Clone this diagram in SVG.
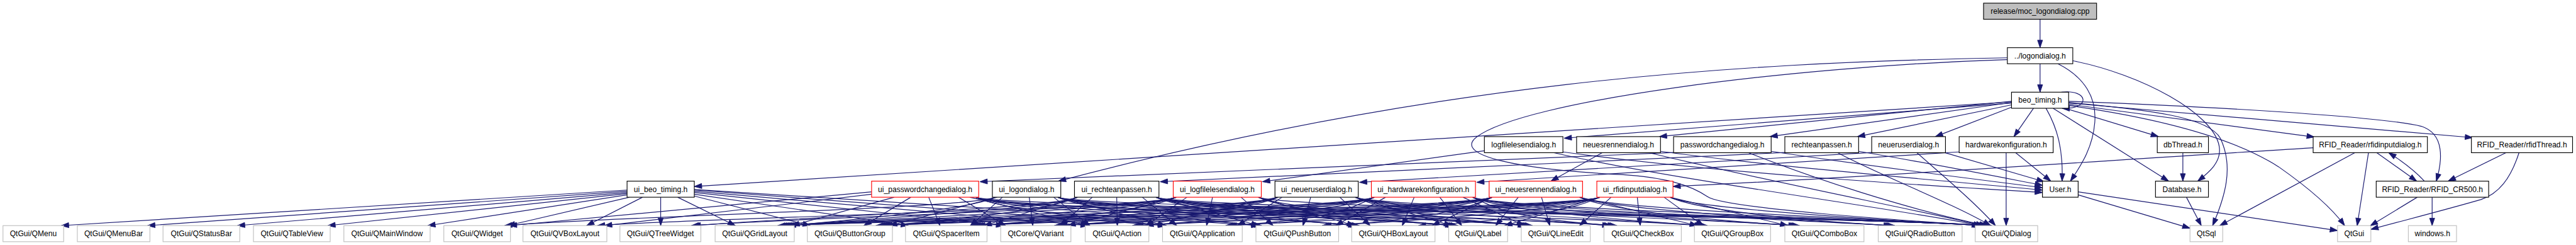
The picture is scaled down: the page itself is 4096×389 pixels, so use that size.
<svg xmlns="http://www.w3.org/2000/svg" width="4096" height="389" viewBox="0 0 4096 389">
<defs>
<style>
.e path{fill:none;stroke:#191970;stroke-width:1.25;marker-end:url(#ah)}
.nd rect{fill:#fff;stroke:#000;stroke-width:1.2}
.rd rect{fill:#fff;stroke:#f00;stroke-width:1.2}
.ex rect{fill:#fff;stroke:#bfbfbf;stroke-width:1.2}
.rt rect{fill:#bfbfbf;stroke:#000;stroke-width:1.2}
text{font-family:"Liberation Sans",Arial,sans-serif;font-size:12.8px;text-anchor:middle;fill:#000}
</style>
<marker id="ah" markerWidth="13" markerHeight="10" refX="12.5" refY="4.75" orient="auto" markerUnits="userSpaceOnUse" overflow="visible"><path d="M0,0.5 L12.5,4.75 L0,9z" fill="#191970" stroke="#191970" stroke-width="1"/></marker>
</defs>
<rect x="0" y="0" width="4096" height="389" fill="#fff"/>
<g transform="scale(0.946)">
<g id="edges" class="e">
<path d="M3429,32.3 L3429,80"/>
<path d="M3429,107 L3429,154.7"/>
<path d="M3459,107 C3505,130 3524,165 3521,205 C3518,245 3500,275 3480,304"/>
<path d="M3374,97 C2900,105 2400,140 1779,304"/>
<path d="M3374,100 C3000,112 2560,170 2482,230 C2440,262 2560,285 2725,293 C2800,298 2840,310 2870,330 C2900,350 3200,370 3332,378.7"/>
<path d="M3484,102 C3600,125 3720,190 3730,245 C3735,272 3712,290 3694,304"/>
<path d="M3465,154.7 C3510,149 3516,184 3466,181.7"/>
<path d="M3418,181.7 L3385,229.3"/>
<path d="M3439,181.7 C3458,215 3468,250 3466,304"/>
<path d="M3451,181.7 L3645,304"/>
<path d="M3471,181.7 L3628,229.3"/>
<path d="M3477,175 L3890,230"/>
<path d="M3477,173 L4156,231"/>
<path d="M3477,170 C3700,178 4000,195 4070,212 C4110,225 4105,270 4095,304"/>
<path d="M3477,172 C3620,185 3712,197 3732,232 C3755,280 3740,330 3719,378.7"/>
<path d="M3477,177 C3640,200 3760,235 3830,280 C3880,315 3920,350 3941,378.7"/>
<path d="M3381,171 L1167,313"/>
<path d="M3381,173 L2629,232"/>
<path d="M3381,170 L2789,229.3"/>
<path d="M3381,172 L2975,229.3"/>
<path d="M3381,176 L3122,229.3"/>
<path d="M3381,180 L3253,229.3"/>
<path d="M2813,256 L1647,305"/>
<path d="M3000,256 L1950,305"/>
<path d="M2495,253 L2122,305"/>
<path d="M3146,256 L2285,306"/>
<path d="M3293,255 L2482,306"/>
<path d="M2693,256.3 L2607,304"/>
<path d="M3888,248 C3500,272 3100,300 2812,313"/>
<path d="M3372,256.3 L3372,378.7"/>
<path d="M3388,256.3 L3447,304"/>
<path d="M3268,256 L3436,305"/>
<path d="M3124,254 C3250,275 3350,295 3433,311"/>
<path d="M2977,254 C3150,280 3330,302 3433,315"/>
<path d="M2791,254 C3000,282 3300,306 3433,319"/>
<path d="M2627,255 C2900,292 3250,312 3433,323"/>
<path d="M2612,256.3 C2800,300 3200,352 3330,378.7"/>
<path d="M2772,256.3 C2950,300 3220,352 3334,378.7"/>
<path d="M2939,256.3 C3050,300 3200,350 3340,378.7"/>
<path d="M3089,256.3 C3150,290 3280,340 3346,378.7"/>
<path d="M3222,256.3 C3260,290 3320,340 3354,378.7"/>
<path d="M3493,327 L3681,383"/>
<path d="M3493,322 L3929,387"/>
<path d="M3675,331 L3700,378.7"/>
<path d="M3669,256.3 L3669,304"/>
<path d="M3958,256.3 L3731,378.7"/>
<path d="M3981,256.3 L3962,378.7"/>
<path d="M3995,256.3 L4062,304"/>
<path d="M4075,304 C4062,290 4040,272 4015,256.3"/>
<path d="M4212,256.3 L4115,304"/>
<path d="M4234,256.3 C4220,300 4200,325 4170,335 C4100,355 4040,370 3985,385"/>
<path d="M4063,331 L3984,379"/>
<path d="M4088,331 L4088,378.7"/>
<path d="M1054,319 L103,378.7"/>
<path d="M1054,321 L248,378.7"/>
<path d="M1054,323 L399,378.7"/>
<path d="M1054,325 L551,378.7"/>
<path d="M1054,327 L719,378.7"/>
<path d="M1058,331 L853,378.7"/>
<path d="M1080,331 L986,378.7"/>
<path d="M1110.5,331 L1110.5,378.7"/>
<path d="M1139,331 L1236,378.7"/>
<path d="M1167,329 L1362,378.7"/>
<path d="M1167,326 L1527,378.7"/>
<path d="M1167,323 L1687,378.7"/>
<path d="M1167,321 L1829,378.7"/>
<path d="M1167,319 L1959,378.7"/>
<path d="M1167,318 L2116,378.7"/>
<path d="M1465,322 L856,378.7"/>
<path d="M1465,326 L1016,378.7"/>
<path d="M1503,331 L1331,378.7"/>
<path d="M1531,331 L1452,378.7"/>
<path d="M1561,331 L1580,378.7"/>
<path d="M1611,331 L1690,378.7"/>
<path d="M1630,331 L1830,378.7"/>
<path d="M1640,331 C1680,350 1804,363 1961,378.7"/>
<path d="M1640,331 C1680,350 1961,363 2118,378.7"/>
<path d="M1640,331 C1680,350 2122,363 2279,378.7"/>
<path d="M1640,331 C1680,350 2285,363 2442,378.7"/>
<path d="M1640,331 C1680,350 2407,363 2564,378.7"/>
<path d="M1640,331 C1680,350 3170,363 3327,378.7"/>
<path d="M1673,331 C1633,350 1008,364 848,378.7"/>
<path d="M1673,331 C1633,350 1485,364 1325,378.7"/>
<path d="M1676,331 L1495,378.7"/>
<path d="M1685,331 L1631,378.7"/>
<path d="M1730,331 L1736,378.7"/>
<path d="M1771,331 L1832,378.7"/>
<path d="M1778,331 L1959,378.7"/>
<path d="M1778,331 C1818,350 1961,364 2121,378.7"/>
<path d="M1778,331 C1818,350 2122,364 2282,378.7"/>
<path d="M1778,331 C1818,350 2285,364 2445,378.7"/>
<path d="M1778,331 C1818,350 2407,364 2567,378.7"/>
<path d="M1778,331 C1818,350 2546,364 2706,378.7"/>
<path d="M1778,331 C1818,350 3170,364 3330,378.7"/>
<path d="M1811,331 C1771,350 1328,365 1165,378.7"/>
<path d="M1811,331 C1771,350 1485,365 1322,378.7"/>
<path d="M1811,331 C1771,350 1650,365 1487,378.7"/>
<path d="M1811,331 L1654,378.7"/>
<path d="M1836,331 L1782,378.7"/>
<path d="M1877,331 L1878,378.7"/>
<path d="M1920,331 L1978,378.7"/>
<path d="M1943,331 L2116,378.7"/>
<path d="M1943,331 C1983,350 2122,365 2285,378.7"/>
<path d="M1943,331 C1983,350 2285,365 2448,378.7"/>
<path d="M1943,331 C1983,350 2407,365 2570,378.7"/>
<path d="M1943,331 C1983,350 2546,365 2709,378.7"/>
<path d="M1943,331 C1983,350 2698,365 2861,378.7"/>
<path d="M1943,331 C1983,350 3170,365 3333,378.7"/>
<path d="M1977,331 C1937,350 1170,366 1004,378.7"/>
<path d="M1977,331 C1937,350 1328,366 1162,378.7"/>
<path d="M1977,331 C1937,350 1485,366 1319,378.7"/>
<path d="M1977,331 C1937,350 1650,366 1484,378.7"/>
<path d="M1977,331 C1937,350 1809,366 1643,378.7"/>
<path d="M1977,331 L1795,378.7"/>
<path d="M1995,331 L1926,378.7"/>
<path d="M2038,331 L2028,378.7"/>
<path d="M2086,331 L2140,378.7"/>
<path d="M2115,331 L2277,378.7"/>
<path d="M2115,331 C2155,350 2285,366 2451,378.7"/>
<path d="M2115,331 C2155,350 2407,366 2573,378.7"/>
<path d="M2115,331 C2155,350 3170,366 3336,378.7"/>
<path d="M2148,331 C2108,350 1485,367 1316,378.7"/>
<path d="M2148,331 C2108,350 1650,367 1481,378.7"/>
<path d="M2148,331 C2108,350 1809,367 1640,378.7"/>
<path d="M2148,331 C2108,350 1950,367 1781,378.7"/>
<path d="M2148,331 L1926,378.7"/>
<path d="M2155,331 L2080,378.7"/>
<path d="M2203,331 L2190,378.7"/>
<path d="M2252,331 L2303,378.7"/>
<path d="M2278,331 L2440,378.7"/>
<path d="M2278,331 C2318,350 2407,367 2576,378.7"/>
<path d="M2278,331 C2318,350 2546,367 2715,378.7"/>
<path d="M2278,331 C2318,350 2698,367 2867,378.7"/>
<path d="M2278,331 C2318,350 2850,367 3019,378.7"/>
<path d="M2278,331 C2318,350 3170,367 3339,378.7"/>
<path d="M2310,331 C2270,350 1485,368 1313,378.7"/>
<path d="M2310,331 C2270,350 1650,368 1478,378.7"/>
<path d="M2310,331 C2270,350 1809,368 1637,378.7"/>
<path d="M2310,331 C2270,350 1950,368 1778,378.7"/>
<path d="M2310,331 C2270,350 2081,368 1909,378.7"/>
<path d="M2310,331 C2270,350 2238,368 2066,378.7"/>
<path d="M2329,331 L2245,378.7"/>
<path d="M2377,331 L2357,378.7"/>
<path d="M2420,331 L2457,378.7"/>
<path d="M2459,331 L2562,378.7"/>
<path d="M2475,331 C2515,350 2546,368 2718,378.7"/>
<path d="M2475,331 C2515,350 2698,368 2870,378.7"/>
<path d="M2475,331 C2515,350 2850,368 3022,378.7"/>
<path d="M2475,331 C2515,350 3007,368 3179,378.7"/>
<path d="M2475,331 C2515,350 3170,368 3342,378.7"/>
<path d="M2508,331 C2468,350 1485,369 1310,378.7"/>
<path d="M2508,331 C2468,350 1650,369 1475,378.7"/>
<path d="M2508,331 C2468,350 1809,369 1634,378.7"/>
<path d="M2508,331 C2468,350 1950,369 1775,378.7"/>
<path d="M2508,331 C2468,350 2081,369 1906,378.7"/>
<path d="M2508,331 C2468,350 2238,369 2063,378.7"/>
<path d="M2508,331 C2468,350 2400,369 2225,378.7"/>
<path d="M2508,331 L2407,378.7"/>
<path d="M2552,331 L2514,378.7"/>
<path d="M2591,331 L2605,378.7"/>
<path d="M2655,331 L2853,378.7"/>
<path d="M2655,331 C2695,350 2850,369 3025,378.7"/>
<path d="M2655,331 C2695,350 3007,369 3182,378.7"/>
<path d="M2655,331 C2695,350 3170,369 3345,378.7"/>
<path d="M2689,331 C2649,350 1485,370 1307,378.7"/>
<path d="M2689,331 C2649,350 1650,370 1472,378.7"/>
<path d="M2689,331 C2649,350 1809,370 1631,378.7"/>
<path d="M2689,331 C2649,350 1950,370 1772,378.7"/>
<path d="M2689,331 C2649,350 2081,370 1903,378.7"/>
<path d="M2689,331 C2649,350 2238,370 2060,378.7"/>
<path d="M2689,331 C2649,350 2400,370 2222,378.7"/>
<path d="M2689,331 C2649,350 2562,370 2384,378.7"/>
<path d="M2689,331 L2529,378.7"/>
<path d="M2708,331 L2655,378.7"/>
<path d="M2752,331 L2757,378.7"/>
<path d="M2797,331 L2863,378.7"/>
<path d="M2807,331 L3005,378.7"/>
<path d="M2807,331 C2847,350 3007,370 3185,378.7"/>
<path d="M2807,331 C2847,350 3170,370 3348,378.7"/>
</g>
<g id="node_moc" class="rt"><rect x="3334" y="5.3" width="190" height="27"/><text x="3429" y="23.3">release/moc_logondialog.cpp</text></g>
<g id="node_logondialog" class="nd"><rect x="3374" y="80" width="110" height="27"/><text x="3429" y="98">../logondialog.h</text></g>
<g id="node_beo_timing" class="nd"><rect x="3381" y="154.7" width="96" height="27"/><text x="3429" y="172.7">beo_timing.h</text></g>
<g id="node_logfilelesendialog" class="nd"><rect x="2495" y="229.3" width="132" height="27"/><text x="2561" y="247.3">logfilelesendialog.h</text></g>
<g id="node_neuesrennendialog" class="nd"><rect x="2650" y="229.3" width="141" height="27"/><text x="2720.5" y="247.3">neuesrennendialog.h</text></g>
<g id="node_passwordchangedialog" class="nd"><rect x="2813" y="229.3" width="164" height="27"/><text x="2895" y="247.3">passwordchangedialog.h</text></g>
<g id="node_rechteanpassen" class="nd"><rect x="3000" y="229.3" width="124" height="27"/><text x="3062" y="247.3">rechteanpassen.h</text></g>
<g id="node_neueruserdialog" class="nd"><rect x="3146" y="229.3" width="124" height="27"/><text x="3208" y="247.3">neueruserdialog.h</text></g>
<g id="node_hardwarekonfiguration" class="nd"><rect x="3293" y="229.3" width="158" height="27"/><text x="3372" y="247.3">hardwarekonfiguration.h</text></g>
<g id="node_dbThread" class="nd"><rect x="3626" y="229.3" width="86" height="27"/><text x="3669" y="247.3">dbThread.h</text></g>
<g id="node_rfidinputdialog" class="nd"><rect x="3888" y="229.3" width="192" height="27"/><text x="3984" y="247.3">RFID_Reader/rfidinputdialog.h</text></g>
<g id="node_rfidThread" class="nd"><rect x="4154" y="229.3" width="170" height="27"/><text x="4239" y="247.3">RFID_Reader/rfidThread.h</text></g>
<g id="node_ui_beo_timing" class="nd"><rect x="1054" y="304" width="113" height="27"/><text x="1110.5" y="322">ui_beo_timing.h</text></g>
<g id="node_ui_passwordchangedialog" class="rd"><rect x="1465" y="304" width="180" height="27"/><text x="1555" y="322">ui_passwordchangedialog.h</text></g>
<g id="node_ui_logondialog" class="nd"><rect x="1668" y="304" width="115" height="27"/><text x="1725.5" y="322">ui_logondialog.h</text></g>
<g id="node_ui_rechteanpassen" class="nd"><rect x="1806" y="304" width="142" height="27"/><text x="1877" y="322">ui_rechteanpassen.h</text></g>
<g id="node_ui_logfilelesendialog" class="rd"><rect x="1972" y="304" width="148" height="27"/><text x="2046" y="322">ui_logfilelesendialog.h</text></g>
<g id="node_ui_neueruserdialog" class="nd"><rect x="2143" y="304" width="140" height="27"/><text x="2213" y="322">ui_neueruserdialog.h</text></g>
<g id="node_ui_hardwarekonfiguration" class="rd"><rect x="2305" y="304" width="175" height="27"/><text x="2392.5" y="322">ui_hardwarekonfiguration.h</text></g>
<g id="node_ui_neuesrennendialog" class="rd"><rect x="2503" y="304" width="157" height="27"/><text x="2581.5" y="322">ui_neuesrennendialog.h</text></g>
<g id="node_ui_rfidinputdialog" class="rd"><rect x="2684" y="304" width="128" height="27"/><text x="2748" y="322">ui_rfidinputdialog.h</text></g>
<g id="node_User" class="nd"><rect x="3433" y="304" width="60" height="27"/><text x="3463" y="322">User.h</text></g>
<g id="node_Database" class="nd"><rect x="3623" y="304" width="89" height="27"/><text x="3667.5" y="322">Database.h</text></g>
<g id="node_RFID_CR500" class="nd"><rect x="3994" y="304" width="189" height="27"/><text x="4088.5" y="322">RFID_Reader/RFID_CR500.h</text></g>
<g id="node_QMenu" class="ex"><rect x="5" y="378.7" width="102" height="27"/><text x="56" y="396.7">QtGui/QMenu</text></g>
<g id="node_QMenuBar" class="ex"><rect x="130" y="378.7" width="122" height="27"/><text x="191" y="396.7">QtGui/QMenuBar</text></g>
<g id="node_QStatusBar" class="ex"><rect x="274" y="378.7" width="129" height="27"/><text x="338.5" y="396.7">QtGui/QStatusBar</text></g>
<g id="node_QTableView" class="ex"><rect x="426" y="378.7" width="129" height="27"/><text x="490.5" y="396.7">QtGui/QTableView</text></g>
<g id="node_QMainWindow" class="ex"><rect x="578" y="378.7" width="145" height="27"/><text x="650.5" y="396.7">QtGui/QMainWindow</text></g>
<g id="node_QWidget" class="ex"><rect x="746" y="378.7" width="112" height="27"/><text x="802" y="396.7">QtGui/QWidget</text></g>
<g id="node_QVBoxLayout" class="ex"><rect x="879" y="378.7" width="141" height="27"/><text x="949.5" y="396.7">QtGui/QVBoxLayout</text></g>
<g id="node_QTreeWidget" class="ex"><rect x="1042" y="378.7" width="136" height="27"/><text x="1110" y="396.7">QtGui/QTreeWidget</text></g>
<g id="node_QGridLayout" class="ex"><rect x="1202" y="378.7" width="133" height="27"/><text x="1268.5" y="396.7">QtGui/QGridLayout</text></g>
<g id="node_QButtonGroup" class="ex"><rect x="1357" y="378.7" width="143" height="27"/><text x="1428.5" y="396.7">QtGui/QButtonGroup</text></g>
<g id="node_QSpacerItem" class="ex"><rect x="1522" y="378.7" width="137" height="27"/><text x="1590.5" y="396.7">QtGui/QSpacerItem</text></g>
<g id="node_QVariant" class="ex"><rect x="1682" y="378.7" width="118" height="27"/><text x="1741" y="396.7">QtCore/QVariant</text></g>
<g id="node_QAction" class="ex"><rect x="1824" y="378.7" width="107" height="27"/><text x="1877.5" y="396.7">QtGui/QAction</text></g>
<g id="node_QApplication" class="ex"><rect x="1954" y="378.7" width="134" height="27"/><text x="2021" y="396.7">QtGui/QApplication</text></g>
<g id="node_QPushButton" class="ex"><rect x="2111" y="378.7" width="139" height="27"/><text x="2180.5" y="396.7">QtGui/QPushButton</text></g>
<g id="node_QHBoxLayout" class="ex"><rect x="2272" y="378.7" width="140" height="27"/><text x="2342" y="396.7">QtGui/QHBoxLayout</text></g>
<g id="node_QLabel" class="ex"><rect x="2435" y="378.7" width="99" height="27"/><text x="2484.5" y="396.7">QtGui/QLabel</text></g>
<g id="node_QLineEdit" class="ex"><rect x="2557" y="378.7" width="116" height="27"/><text x="2615" y="396.7">QtGui/QLineEdit</text></g>
<g id="node_QCheckBox" class="ex"><rect x="2696" y="378.7" width="130" height="27"/><text x="2761" y="396.7">QtGui/QCheckBox</text></g>
<g id="node_QGroupBox" class="ex"><rect x="2848" y="378.7" width="128" height="27"/><text x="2912" y="396.7">QtGui/QGroupBox</text></g>
<g id="node_QComboBox" class="ex"><rect x="3000" y="378.7" width="133" height="27"/><text x="3066.5" y="396.7">QtGui/QComboBox</text></g>
<g id="node_QRadioButton" class="ex"><rect x="3157" y="378.7" width="141" height="27"/><text x="3227.5" y="396.7">QtGui/QRadioButton</text></g>
<g id="node_QDialog" class="ex"><rect x="3320" y="378.7" width="105" height="27"/><text x="3372.5" y="396.7">QtGui/QDialog</text></g>
<g id="node_QtSql" class="ex"><rect x="3681" y="378.7" width="55" height="27"/><text x="3708.5" y="396.7">QtSql</text></g>
<g id="node_QtGui" class="ex"><rect x="3929" y="378.7" width="56" height="27"/><text x="3957" y="396.7">QtGui</text></g>
<g id="node_windows" class="ex"><rect x="4048" y="378.7" width="81" height="27"/><text x="4088.5" y="396.7">windows.h</text></g>
</g>
</svg>
